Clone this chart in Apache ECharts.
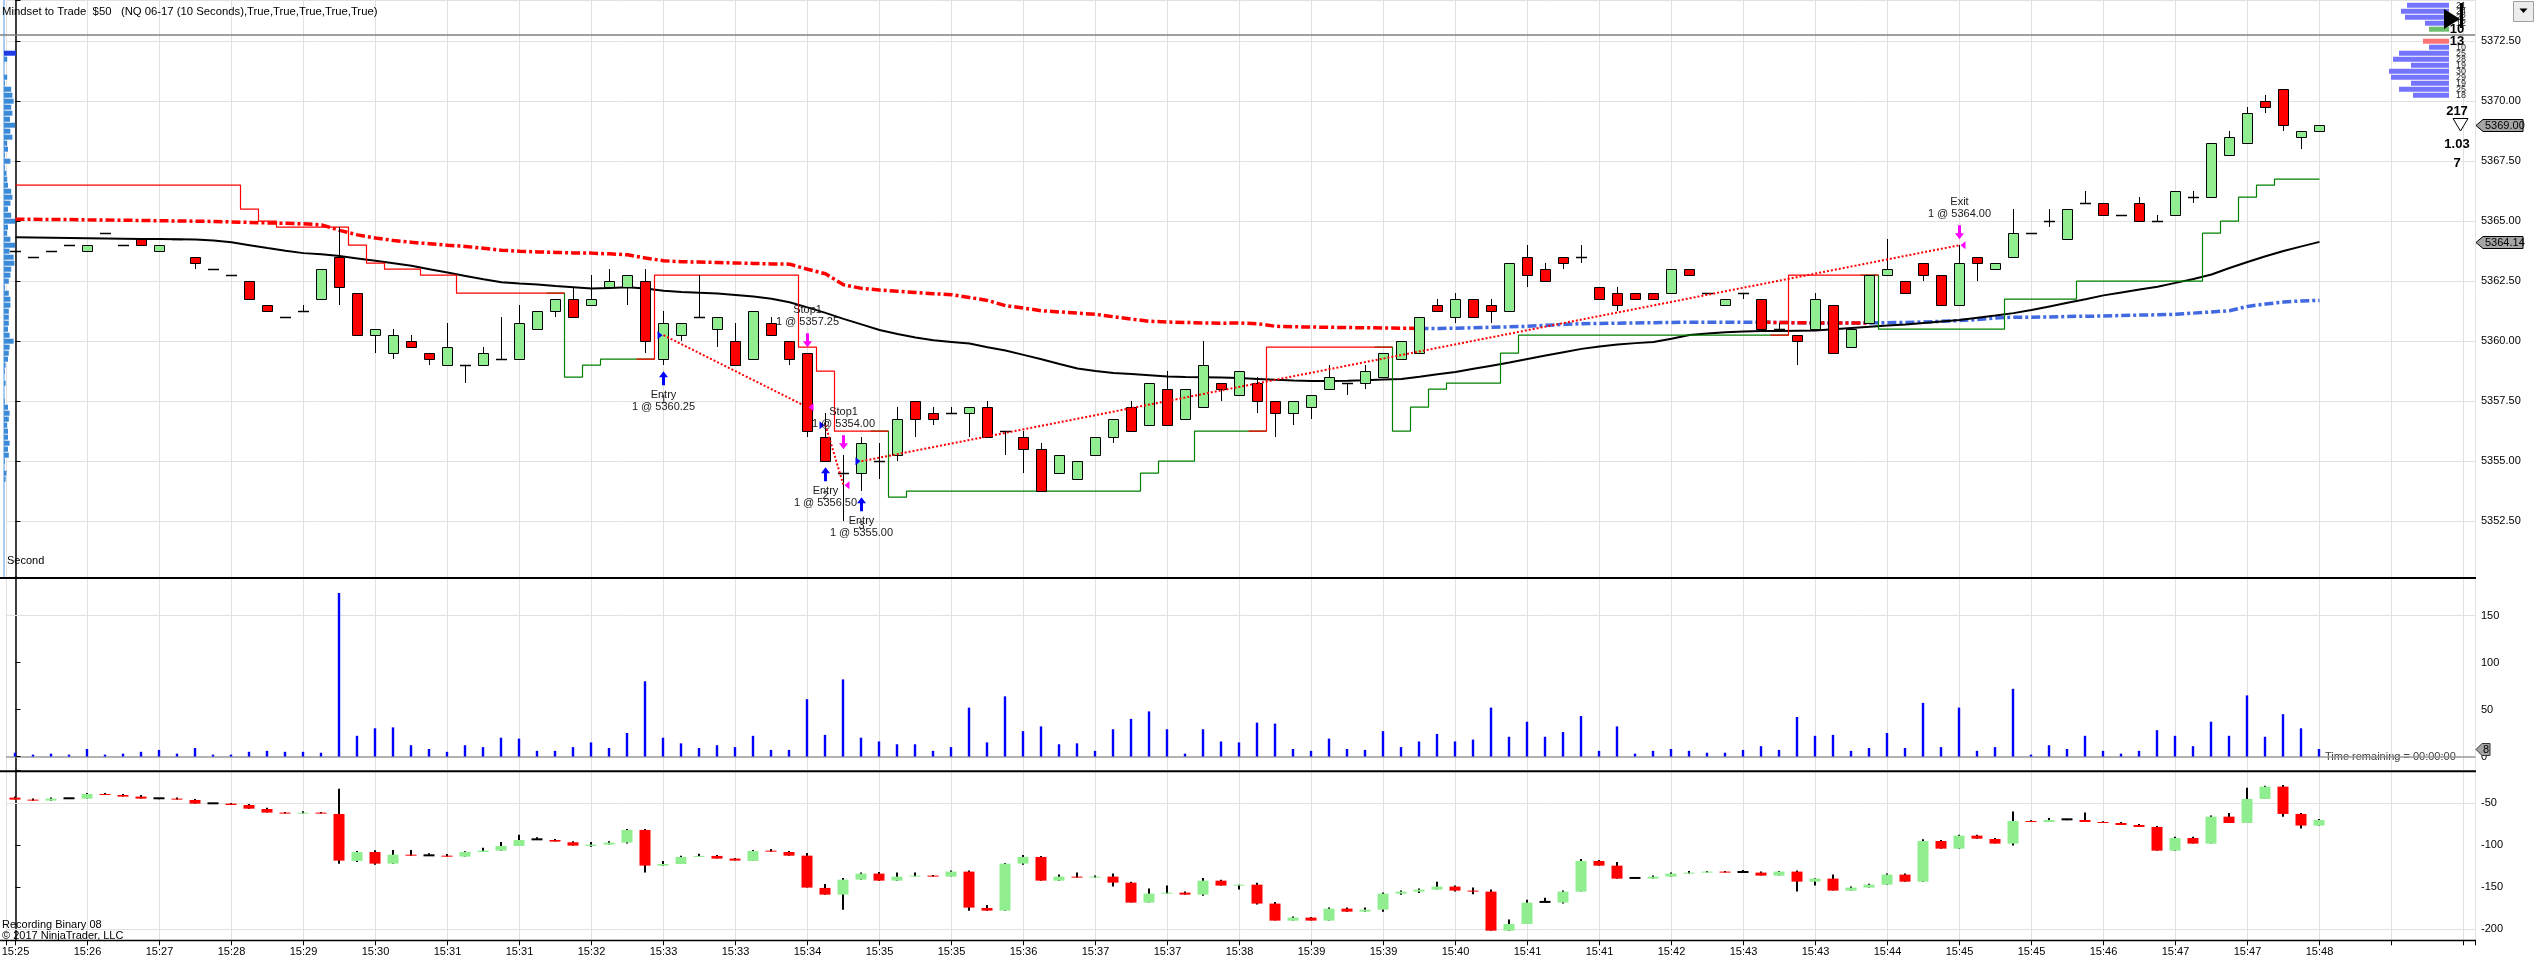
<!DOCTYPE html>
<html>
<head>
<meta charset="utf-8">
<script src="https://cdn.jsdelivr.net/npm/echarts@6/dist/echarts.min.js"></script>
<style>
html,body{margin:0;padding:0;background:#fff;overflow:hidden}
#chart{width:2535px;height:967px}
</style>
</head>
<body>
<div id="chart"></div>
<script>
// ================= DATA =================
const titleText = 'Mindset to Trade  $50   (NQ 06-17 (10 Seconds),True,True,True,True,True)';

const tickLabels = ['15:25','15:26','15:27','15:28','15:29','15:30','15:31','15:31','15:32','15:33','15:33',
  '15:34','15:35','15:35','15:36','15:37','15:37','15:38','15:39','15:39','15:40','15:41','15:41','15:42',
  '15:43','15:43','15:44','15:45','15:45','15:46','15:47','15:47','15:48'];

const priceOpen = [5363.75,5363.5,5363.75,5364.0,5363.75,5364.5,5364.0,5364.25,5363.75,5364.25,
5363.5,5363.0,5362.75,5362.5,5361.5,5361.0,5361.25,5361.75,5363.5,5362.0,
5360.25,5359.5,5360.0,5359.5,5359.0,5359.0,5359.0,5359.25,5359.25,5360.5,
5361.25,5361.75,5361.5,5362.25,5362.25,5362.5,5359.25,5360.25,5361.0,5360.5,
5360.0,5359.25,5360.75,5360.0,5359.5,5356.0,5354.5,5354.5,5355.0,5355.25,
5357.5,5357.0,5357.0,5357.0,5357.25,5356.25,5356.0,5355.5,5354.5,5354.25,
5355.25,5356.0,5357.25,5356.5,5358.0,5356.75,5357.25,5358.25,5357.75,5358.25,
5357.5,5357.0,5357.25,5358.0,5358.25,5358.25,5358.5,5359.25,5359.5,5361.5,
5361.0,5361.75,5361.5,5361.25,5363.5,5363.0,5363.5,5363.5,5362.25,5362.0,
5362.0,5362.0,5362.0,5363.0,5362.0,5361.5,5362.0,5361.75,5360.5,5360.25,
5360.5,5361.5,5359.75,5360.75,5362.75,5362.5,5363.25,5362.75,5361.5,5363.5,
5363.0,5363.5,5364.5,5365.0,5364.25,5365.75,5365.75,5365.25,5365.75,5365.0,
5365.25,5366.0,5366.0,5367.75,5368.25,5370.0,5370.5,5368.5,5368.75];

const priceHigh = [5363.75,5363.5,5363.75,5364.0,5364.0,5364.5,5364.0,5364.25,5364.0,5364.25,
5363.5,5363.0,5362.75,5362.5,5361.5,5361.0,5361.5,5363.0,5364.75,5362.0,
5360.5,5360.5,5360.25,5359.5,5360.75,5359.0,5359.75,5361.0,5361.5,5361.25,
5361.75,5362.25,5362.75,5363.0,5362.75,5363.0,5361.25,5360.75,5362.75,5361.0,
5360.75,5361.25,5361.0,5360.0,5359.5,5357.0,5355.25,5356.0,5355.75,5357.25,
5357.5,5357.25,5357.25,5357.25,5357.5,5356.25,5356.25,5355.75,5355.25,5355.0,
5356.0,5356.75,5357.5,5358.25,5358.75,5358.0,5360.0,5358.25,5358.75,5358.5,
5357.5,5357.5,5357.75,5359.0,5358.25,5359.0,5359.5,5360.0,5361.0,5361.75,
5362.0,5361.75,5361.75,5363.25,5364.0,5363.25,5363.5,5364.0,5362.25,5362.25,
5362.0,5362.0,5363.0,5363.0,5362.0,5361.75,5362.0,5361.75,5360.75,5360.25,
5362.0,5361.5,5360.5,5362.75,5364.25,5362.5,5363.25,5362.75,5364.0,5363.5,
5363.25,5365.5,5364.5,5365.5,5365.5,5366.25,5365.75,5365.25,5366.0,5365.25,
5366.25,5366.25,5368.25,5368.75,5369.75,5370.25,5370.5,5368.75,5369.0];

const priceLow = [5363.75,5363.5,5363.75,5364.0,5363.75,5364.5,5364.0,5364.0,5363.75,5364.25,
5363.0,5363.0,5362.75,5361.75,5361.25,5361.0,5361.25,5361.75,5361.5,5360.25,
5359.5,5359.25,5359.75,5359.0,5359.0,5358.25,5359.0,5359.25,5359.25,5360.5,
5361.0,5361.0,5361.5,5362.25,5361.5,5359.5,5359.0,5360.0,5361.0,5359.75,
5359.0,5359.25,5360.25,5359.0,5356.0,5355.0,5352.5,5353.75,5354.25,5355.0,
5356.0,5356.5,5357.0,5356.0,5356.0,5355.25,5354.5,5353.75,5354.5,5354.25,
5355.25,5355.75,5356.25,5356.5,5356.5,5356.75,5357.25,5357.5,5357.75,5357.0,
5356.0,5356.5,5356.75,5358.0,5357.75,5358.0,5358.5,5359.25,5359.5,5361.25,
5360.75,5361.0,5360.75,5361.25,5362.25,5362.5,5363.0,5363.25,5361.75,5361.25,
5361.75,5361.75,5362.0,5362.75,5362.0,5361.5,5361.75,5360.5,5360.5,5359.0,
5360.5,5359.5,5359.75,5360.75,5362.75,5362.0,5362.5,5361.5,5361.5,5362.5,
5363.0,5363.5,5364.5,5364.75,5364.25,5365.75,5365.25,5365.25,5365.0,5365.0,
5365.25,5365.75,5366.0,5367.75,5368.25,5369.5,5368.75,5368.0,5368.75];

const priceClose = [5363.75,5363.5,5363.75,5364.0,5364.0,5364.5,5364.0,5364.0,5364.0,5364.25,
5363.25,5363.0,5362.75,5361.75,5361.25,5361.0,5361.25,5363.0,5362.25,5360.25,
5360.5,5360.25,5359.75,5359.25,5359.75,5359.0,5359.5,5359.25,5360.75,5361.25,
5361.75,5361.0,5361.75,5362.5,5362.75,5360.0,5360.75,5360.75,5361.0,5361.0,
5359.0,5361.25,5360.25,5359.25,5356.25,5355.0,5354.5,5355.75,5355.0,5356.75,
5356.75,5356.75,5357.0,5357.25,5356.0,5356.25,5355.5,5353.75,5355.25,5355.0,
5356.0,5356.75,5356.25,5358.25,5356.5,5358.0,5359.0,5358.0,5358.75,5357.5,
5357.0,5357.5,5357.75,5358.5,5358.25,5358.75,5359.5,5360.0,5361.0,5361.25,
5361.75,5361.0,5361.25,5363.25,5362.75,5362.5,5363.25,5363.5,5361.75,5361.5,
5361.75,5361.75,5363.0,5362.75,5362.0,5361.75,5362.0,5360.5,5360.5,5360.0,
5361.75,5359.5,5360.5,5362.75,5363.0,5362.0,5362.75,5361.5,5363.25,5363.25,
5363.25,5364.5,5364.5,5365.0,5365.5,5365.75,5365.25,5365.25,5365.0,5365.0,
5366.25,5366.0,5368.25,5368.5,5369.5,5369.75,5369.0,5368.75,5369.0];

// black moving average
const sma = [5364.33,5364.32,5364.31,5364.30,5364.29,5364.28,5364.27,5364.26,5364.26,5364.25,
5364.24,5364.20,5364.12,5364.00,5363.88,5363.77,5363.67,5363.62,5363.55,5363.45,
5363.35,5363.25,5363.14,5363.00,5362.86,5362.72,5362.58,5362.46,5362.40,5362.36,
5362.30,5362.25,5362.20,5362.22,5362.25,5362.20,5362.10,5362.05,5362.02,5361.99,
5361.93,5361.86,5361.77,5361.62,5361.41,5361.18,5360.93,5360.70,5360.47,5360.30,
5360.15,5360.04,5359.97,5359.90,5359.75,5359.61,5359.43,5359.25,5359.05,5358.86,
5358.76,5358.68,5358.63,5358.58,5358.53,5358.51,5358.50,5358.49,5358.47,5358.43,
5358.39,5358.36,5358.34,5358.34,5358.35,5358.37,5358.40,5358.43,5358.52,5358.62,
5358.72,5358.85,5358.98,5359.11,5359.26,5359.40,5359.54,5359.68,5359.78,5359.86,
5359.92,5359.97,5360.10,5360.26,5360.32,5360.37,5360.40,5360.42,5360.43,5360.44,
5360.45,5360.50,5360.55,5360.60,5360.65,5360.70,5360.76,5360.82,5360.88,5360.98,
5361.07,5361.17,5361.30,5361.45,5361.60,5361.75,5361.91,5362.03,5362.15,5362.27,
5362.43,5362.59,5362.78,5363.05,5363.30,5363.54,5363.76,5363.95,5364.14];

// dash-dot line (red, later blue)
const upperLine = [5365.08,5365.08,5365.07,5365.07,5365.06,5365.05,5365.04,5365.03,5365.02,5365.01,
5365.00,5364.99,5364.97,5364.95,5364.93,5364.91,5364.89,5364.85,5364.62,5364.43,
5364.30,5364.20,5364.12,5364.06,5364.00,5363.95,5363.87,5363.79,5363.75,5363.72,
5363.70,5363.68,5363.67,5363.64,5363.60,5363.47,5363.35,5363.31,5363.30,5363.28,
5363.26,5363.24,5363.22,5363.21,5363.00,5362.81,5362.35,5362.20,5362.13,5362.08,
5362.03,5361.98,5361.94,5361.82,5361.70,5361.48,5361.38,5361.27,5361.22,5361.17,
5361.12,5361.02,5360.92,5360.83,5360.80,5360.78,5360.76,5360.75,5360.76,5360.73,
5360.62,5360.60,5360.59,5360.58,5360.57,5360.56,5360.55,5360.54,5360.53,5360.53,
5360.54,5360.56,5360.58,5360.60,5360.62,5360.66,5360.70,5360.73,5360.74,5360.75,
5360.76,5360.77,5360.78,5360.79,5360.79,5360.79,5360.79,5360.79,5360.78,5360.77,
5360.76,5360.76,5360.76,5360.76,5360.77,5360.78,5360.80,5360.83,5360.86,5360.90,
5360.97,5361.00,5361.00,5361.01,5361.03,5361.04,5361.05,5361.07,5361.09,5361.10,
5361.12,5361.17,5361.22,5361.27,5361.45,5361.55,5361.63,5361.68,5361.70];
const upperSwitchBar = 78;          // red -> blue
const upperRedOverlay = [97, 103];  // red dashes again over blue

// trailing stop steps: [fromBar, toBar, price]
const stopRedRuns = [[0,12,5366.5],[13,13,5365.5],[14,14,5365.0],[15,18,5364.75],[19,19,5364.0],
 [20,20,5363.25],[21,22,5363.0],[23,24,5362.75],[25,30,5362.0],
 [35,35,5359.25],[36,43,5362.75],[44,44,5359.75],[45,45,5358.75],[46,48,5356.25],
 [69,69,5356.25],[70,76,5359.75],
 [98,98,5360.25],[99,103,5362.75]];
const stopGreenRuns = [[30,30,5362.0],[31,31,5358.5],[32,32,5359.0],[33,35,5359.25],
 [48,48,5356.25],[49,49,5353.5],[50,62,5353.75],[63,63,5354.5],[64,65,5355.0],[66,69,5356.25],
 [76,76,5359.75],[77,77,5356.25],[78,78,5357.25],[79,79,5358.0],[80,82,5358.25],[83,83,5359.5],[84,98,5360.25],
 [103,103,5362.75],[104,110,5360.5],[111,114,5361.75],[115,121,5362.5],[122,122,5364.5],[123,123,5365.0],
 [124,124,5366.0],[125,125,5366.5],[126,128,5366.75]];

// executions
const execBars   = [36, 44, 45, 46, 47, 108];
const execPrices = [5360.25, 5357.25, 5356.50, 5354.00, 5355.00, 5364.00];
const execSides  = ['buy','sell','buy','sell','buy','sell'];
const execNames  = ['Entry','Stop1','Entry','Stop1','Entry','Exit'];
const execQty    = [1,1,1,1,1,1];
const execTradeNo = ['1','','2','','3',''];
const tradePairs = [[0,1],[2,3],[4,5]];

// volume
const volume = [4,2,3,2,8,2,3,5,7,3, 9,2,2,5,6,5,5,4,174,22, 30,31,12,8,5,12,10,20,19,6,
 6,10,15,9,25,80,20,14,9,12, 10,22,7,7,61,23,82,20,16,13, 13,6,10,52,15,64,27,32,13,14,
 6,29,40,48,29,3,29,16,15,36, 35,8,6,19,8,7,27,10,16,24, 16,18,52,21,37,21,26,43,6,32,
 3,6,8,6,4,4,7,11,7,42, 22,23,6,9,25,9,57,10,52,6, 10,72,2,12,8,22,6,3,6,28,
 22,11,37,22,65,21,45,30,8];

// lower indicator (OHLC)
const indOpen = [-43.2,-45.6,-46.8,-44.0,-44.4,-38.9,-40.1,-42.0,-44.0,-44.4,
-46.0,-50.0,-50.4,-52.0,-56.8,-61.1,-62.3,-61.1,-62.7,-118.8,
-108.1,-122.0,-111.3,-112.1,-112.5,-113.6,-108.1,-106.5,-100.9,-93.0,
-93.8,-96.5,-100.9,-99.3,-96.9,-81.8,-124.4,-122.4,-114.0,-112.8,
-116.0,-118.8,-106.5,-108.1,-112.5,-151.0,-159.0,-141.1,-133.9,-142.3,
-137.5,-136.3,-137.5,-131.5,-174.9,-178.1,-122.0,-114.0,-142.3,-137.5,
-138.7,-137.5,-144.7,-168.5,-157.8,-156.6,-159.0,-142.3,-148.2,-147.1,
-169.7,-190.0,-186.4,-190.0,-175.7,-179.3,-176.9,-157.8,-155.4,-153.0,
-149.4,-154.2,-155.4,-202.0,-194.0,-167.7,-168.5,-155.4,-118.8,-124.4,
-139.1,-139.9,-137.5,-133.9,-132.7,-131.5,-132.0,-132.7,-136.3,-131.5,
-143.5,-139.9,-154.2,-150.6,-147.1,-135.1,-143.5,-95.0,-104.1,-88.6,
-92.6,-98.1,-71.1,-72.3,-69.1,-69.9,-72.3,-73.5,-75.9,-78.2,
-106.5,-91.4,-98.1,-65.9,-73.5,-44.8,-30.1,-62.7,-76.6];
const indHigh = [-42.0,-44.4,-43.2,-44.0,-37.7,-37.7,-38.9,-40.1,-44.0,-43.2,
-44.8,-50.0,-49.6,-50.8,-55.2,-60.3,-59.5,-60.3,-32.5,-106.9,
-106.1,-105.7,-105.7,-109.7,-110.5,-107.3,-102.9,-96.1,-87.4,-90.6,
-92.6,-95.3,-96.1,-95.3,-80.6,-80.6,-118.8,-112.5,-110.1,-111.7,
-115.2,-105.7,-104.5,-106.9,-109.3,-146.3,-139.1,-132.7,-131.9,-132.7,
-132.7,-135.5,-130.3,-130.3,-171.3,-121.2,-111.7,-112.8,-135.1,-132.7,
-136.3,-133.9,-143.5,-151.8,-148.2,-155.4,-139.1,-141.1,-147.1,-144.7,
-167.7,-185.2,-185.6,-174.5,-174.5,-174.5,-156.6,-154.2,-151.8,-143.5,
-148.2,-150.6,-153.0,-188.8,-165.0,-162.6,-154.2,-116.4,-117.6,-120.0,
-137.9,-136.3,-132.7,-130.7,-130.7,-130.7,-129.5,-131.5,-130.7,-130.3,
-139.5,-135.1,-149.4,-145.9,-133.9,-133.9,-93.0,-93.8,-87.4,-87.4,
-91.4,-59.9,-70.3,-67.5,-69.1,-61.1,-71.5,-72.3,-74.7,-77.0,
-89.8,-89.8,-64.7,-61.5,-31.3,-28.9,-28.1,-61.5,-68.7];
const indLow = [-45.6,-46.8,-46.8,-44.0,-44.4,-40.1,-42.0,-44.4,-45.2,-45.6,
-50.4,-50.0,-52.0,-56.4,-61.1,-62.3,-62.3,-62.3,-122.0,-120.0,
-123.2,-122.0,-112.5,-112.1,-113.6,-113.6,-108.1,-106.5,-100.9,-93.0,
-95.7,-100.5,-101.7,-99.3,-98.1,-132.7,-124.4,-122.4,-114.0,-116.0,
-118.4,-118.8,-107.7,-112.5,-150.6,-159.0,-176.9,-141.1,-142.3,-142.3,
-137.5,-137.5,-137.5,-178.1,-178.1,-178.1,-123.2,-142.3,-142.3,-138.7,
-138.7,-149.4,-168.5,-168.5,-157.8,-159.0,-160.2,-148.2,-153.0,-170.9,
-190.0,-190.0,-190.0,-190.0,-179.3,-179.3,-179.3,-159.0,-157.0,-153.0,
-155.4,-158.5,-202.0,-202.0,-194.0,-167.7,-169.7,-155.4,-124.4,-139.9,
-139.1,-139.9,-137.5,-133.9,-132.7,-132.7,-132.0,-136.3,-136.3,-155.4,
-148.2,-154.2,-154.2,-150.6,-147.1,-143.5,-143.5,-104.1,-104.1,-92.2,
-98.1,-100.5,-72.3,-72.3,-70.3,-72.3,-73.5,-75.9,-78.2,-106.5,
-106.5,-98.1,-98.1,-73.5,-73.5,-44.8,-65.9,-80.2,-76.6];
const indClose = [-45.6,-46.8,-44.4,-44.0,-38.9,-40.1,-42.0,-44.4,-44.0,-45.6,
-50.4,-50.0,-52.0,-56.4,-61.1,-62.3,-61.1,-62.3,-118.4,-108.1,
-122.0,-111.3,-112.5,-112.1,-113.6,-108.1,-106.5,-100.9,-93.8,-93.0,
-95.7,-100.5,-99.3,-96.9,-81.8,-124.4,-122.4,-114.0,-112.8,-116.0,
-118.4,-106.9,-107.7,-112.5,-150.6,-159.0,-141.1,-133.9,-142.3,-137.5,
-136.3,-137.5,-131.5,-174.5,-178.1,-122.0,-114.0,-142.3,-137.5,-138.7,
-137.5,-144.7,-168.5,-157.8,-156.6,-159.0,-142.3,-148.2,-147.1,-169.7,
-190.0,-186.4,-190.0,-175.7,-179.3,-176.9,-157.8,-155.4,-153.0,-149.4,
-154.2,-155.4,-202.0,-194.0,-168.5,-167.7,-155.4,-118.8,-124.4,-139.9,
-139.1,-137.5,-133.9,-132.7,-131.5,-132.7,-132.0,-136.3,-131.5,-143.5,
-139.9,-154.2,-150.6,-147.1,-135.1,-143.5,-95.0,-104.1,-88.6,-92.2,
-98.1,-71.1,-72.3,-69.9,-69.1,-72.3,-73.5,-75.9,-78.2,-106.5,
-91.4,-98.1,-65.9,-73.5,-44.8,-30.1,-62.7,-76.6,-69.9];

// left volume profile (price -> volume)
const profilePrice = [5372.0,5371.75,5371.0,5370.75,5370.5,5370.25,5370.0,5369.75,5369.5,5369.25,5369.0,5368.75,
 5368.5,5368.25,5368.0,5367.75,5367.5,5367.25,5367.0,5366.75,5366.5,5366.25,5366.0,5365.75,5365.5,5365.25,5365.0,
 5364.75,5364.5,5364.25,5364.0,5363.75,5363.5,5363.25,5363.0,5362.75,5362.5,5362.25,5362.0,5361.75,5361.5,5361.25,
 5361.0,5360.75,5360.5,5360.25,5360.0,5359.75,5359.5,5359.25,5359.0,5358.75,5358.25,5357.5,5357.25,5357.0,5356.75,
 5356.5,5356.25,5356.0,5355.75,5355.5,5355.25,5355.0,5354.5,5354.25];
const profileVol = [30,8,8,2,18,21,24,18,21,15,28,16,21,8,10,2,16,2,6,8,10,18,21,16,10,18,28,10,8,16,28,14,24,26,
 18,16,12,2,12,16,16,12,12,12,10,14,24,14,12,10,4,2,4,2,10,14,12,8,10,10,14,10,12,2,6,4];
const profileHighlight = 5372.0;

// right price ladder
const ladderPrice = [5374.0,5373.75,5373.5,5373.25,5373.0,5372.5,5372.25,5372.0,5371.75,5371.5,5371.25,5371.0,5370.75,5370.5,5370.25];
const ladderVol   = [21,24,22,12,10,13,10,25,28,19,30,29,19,25,18];
const ladderKind  = ['ask','ask','ask','ask','lastAsk','lastBid','bid','bid','bid','bid','bid','bid','bid','bid','bid'];

// ================= CHART =================
const N = priceOpen.length;
const FONT = '"Liberation Sans", Arial, Helvetica, sans-serif';
const X_MIN = -0.5, X_MAX = 136.639;
const P_MIN = 5350.175, P_MAX = 5374.217;
const V_MIN = -14.36, V_MAX = 190.96;
const I_MIN = -213.5, I_MAX = -11.8;
const GL = 6.5, GW = 2468.5;
const GRID_LINE = '#E1E1E1';

function isMultiple(v, step) { const r = v / step; return Math.abs(r - Math.round(r)) < 1e-6; }
function expandRuns(runs) { const a = new Array(N).fill(null); runs.forEach(([s,e,v]) => { for (let i = s; i <= e; i++) a[i] = v; }); return a; }
function timeLabel(v) {
  if (!isMultiple(v, 4)) return '';
  const k = Math.round(v / 4);
  return tickLabels[k] || '';
}

const stopRed = expandRuns(stopRedRuns);
const stopGreen = expandRuns(stopGreenRuns);

function renderPriceCandle(params, api) {
  const i = api.value(0), o = api.value(1), h = api.value(2), l = api.value(3), c = api.value(4);
  const pO = api.coord([i, o]), pC = api.coord([i, c]), pH = api.coord([i, h]), pL = api.coord([i, l]);
  const x = Math.round(pO[0]) + 0.5;
  const w = 10;
  const ch = [];
  if (h > l) ch.push({type:'line', shape:{x1:x, y1:Math.round(pH[1]), x2:x, y2:Math.round(pL[1])}, style:{stroke:'#000', lineWidth:1}});
  if (o === c) {
    const y = Math.round(pO[1]) + 0.5;
    ch.push({type:'line', shape:{x1:x - w/2 - 0.5, y1:y, x2:x + w/2 + 0.5, y2:y}, style:{stroke:'#000', lineWidth:1.5}});
  } else {
    const t = Math.round(Math.min(pO[1], pC[1])) + 0.5, b = Math.round(Math.max(pO[1], pC[1])) + 0.5;
    ch.push({type:'rect', shape:{x:x - w/2, y:t, width:w, height:b - t}, style:{fill: c > o ? '#90EE90' : '#FF0000', stroke:'#000', lineWidth:1}});
  }
  return {type:'group', children: ch};
}

function renderIndCandle(params, api) {
  const i = api.value(0), o = api.value(1), h = api.value(2), l = api.value(3), c = api.value(4);
  const pO = api.coord([i, o]), pC = api.coord([i, c]), pH = api.coord([i, h]), pL = api.coord([i, l]);
  const x = Math.round(pO[0]);
  const w = 11;
  const ch = [];
  if (h > l) ch.push({type:'line', shape:{x1:x, y1:pH[1], x2:x, y2:pL[1]}, style:{stroke:'#000', lineWidth:2}});
  if (o === c) {
    ch.push({type:'line', shape:{x1:x - w/2, y1:pO[1], x2:x + w/2, y2:pO[1]}, style:{stroke:'#000', lineWidth:2}});
  } else {
    const t = Math.min(pO[1], pC[1]), b = Math.max(pO[1], pC[1]);
    ch.push({type:'rect', shape:{x:x - w/2, y:t, width:w, height:Math.max(1, b - t)}, style:{fill: c > o ? '#90EE90' : '#FF0000'}});
  }
  return {type:'group', children: ch};
}

function renderVolume(params, api) {
  const i = api.value(0), v = api.value(1);
  const a = api.coord([i, 0]), b = api.coord([i, v]);
  return {type:'rect', shape:{x:Math.round(a[0]) - 1.2, y:b[1], width:2.4, height:a[1] - b[1]}, style:{fill:'#0000FF'}};
}

function renderExec(params, api) {
  const k = params.dataIndex;
  const bar = execBars[k], price = execPrices[k], buy = execSides[k] === 'buy';
  const anchor = buy ? priceLow[bar] : priceHigh[bar];
  const pt = api.coord([bar, anchor]);
  const x = Math.round(pt[0]) + 0.5, ya = pt[1];
  const yp = api.coord([bar, price])[1];
  const col = buy ? '#0000FF' : '#FF00FF';
  const s = buy ? 1 : -1;
  const tip = ya + s * 6, neck = tip + s * 6, tail = ya + s * 20;
  const tf = '11px ' + FONT;
  const txt = (t, y) => ({type:'text', style:{text:t, x:x, y:y, textAlign:'center', textVerticalAlign:'middle', font:tf, fill:'#1a1a1a'}});
  const ch = [];
  ch.push({type:'polygon', shape:{points:[[x, tip],[x + 4.5, neck],[x + 1.5, neck],[x + 1.5, tail],[x - 1.5, tail],[x - 1.5, neck],[x - 4.5, neck]]}, style:{fill:col}});
  if (buy) {
    ch.push(txt(execNames[k], ya + 30));
    ch.push(txt(execQty[k] + ' @ ' + price.toFixed(2), ya + 42));
    if (execTradeNo[k]) ch.push(txt(execTradeNo[k], ya + 35));
    ch.push({type:'polygon', shape:{points:[[x - 6, yp - 4],[x - 1, yp],[x - 6, yp + 4]]}, style:{fill:col}});
  } else {
    ch.push(txt(execNames[k], ya - 43));
    ch.push(txt(execQty[k] + ' @ ' + price.toFixed(2), ya - 31));
    ch.push({type:'polygon', shape:{points:[[x + 6, yp - 4],[x + 1, yp],[x + 6, yp + 4]]}, style:{fill:col}});
  }
  return {type:'group', children: ch};
}

function renderTag(params, api) {
  const v = api.value(1);
  const y = Math.round(api.coord([api.value(0), v])[1]) + 0.5;
  const x0 = params.coordSys.x + params.coordSys.width + 1;
  return {type:'group', children:[
    {type:'polygon', shape:{points:[[x0, y],[x0 + 7, y - 6],[x0 + 47, y - 6],[x0 + 47, y + 6],[x0 + 7, y + 6]]}, style:{fill:'#A4A4A4', stroke:'#000', lineWidth:1}},
    {type:'text', style:{text:v.toFixed(2), x:x0 + 9, y:y, textAlign:'left', textVerticalAlign:'middle', font:'11px ' + FONT, fill:'#000'}}
  ]};
}

function renderVolTag(params, api) {
  const v = api.value(1);
  const y = Math.round(api.coord([api.value(0), v])[1]) + 0.5;
  const x0 = params.coordSys.x + params.coordSys.width + 1;
  return {type:'group', children:[
    {type:'polygon', shape:{points:[[x0, y],[x0 + 6, y - 6],[x0 + 14, y - 6],[x0 + 14, y + 6],[x0 + 6, y + 6]]}, style:{fill:'#A4A4A4', stroke:'#333', lineWidth:1}},
    {type:'text', style:{text:String(v), x:x0 + 10, y:y, textAlign:'center', textVerticalAlign:'middle', font:'11px ' + FONT, fill:'#000'}}
  ]};
}

function renderProfile(params, api) {
  const v = api.value(0), p = api.value(1);
  const a = api.coord([0, p + 0.125]), b = api.coord([v, p - 0.125]);
  return {type:'rect', shape:{x:a[0], y:a[1] + 0.5, width:b[0] - a[0], height:b[1] - a[1] - 1}, style:{fill: p === profileHighlight ? '#1E3CE6' : '#3A8AD8'}};
}

function renderLadder(params, api) {
  const k = params.dataIndex;
  const v = api.value(0), p = api.value(1);
  const a = api.coord([0, p + 0.125]), b = api.coord([v, p - 0.125]);
  const kind = ladderKind[k];
  const fill = kind === 'lastAsk' ? '#6CBF6C' : kind === 'lastBid' ? '#FF7373' : '#7474FF';
  const xr = params.coordSys.x + params.coordSys.width;
  const ym = (a[1] + b[1]) / 2;
  const bold = kind === 'lastAsk' || kind === 'lastBid';
  return {type:'group', children:[
    {type:'rect', shape:{x:Math.min(a[0], b[0]), y:a[1] + 0.5, width:Math.abs(b[0] - a[0]), height:b[1] - a[1] - 1}, style:{fill:fill}},
    {type:'text', z2: bold ? 10 : 1, style:{text:String(v), x: xr + (bold ? 8 : 12), y: ym, textAlign:'center', textVerticalAlign:'middle',
      font: bold ? 'bold 13px ' + FONT : '9px ' + FONT, fill: bold ? '#000' : '#222'}}
  ]};
}

function xAxisFor(gi, opts) {
  return Object.assign({
    type:'value', gridIndex:gi, min:X_MIN, max:X_MAX, minInterval:4, maxInterval:4,
    axisLine:{show:false}, axisTick:{show:false}, axisLabel:{show:false},
    splitLine:{show:true, lineStyle:{color:GRID_LINE, width:1}}
  }, opts || {});
}
const yLabel = {color:'#000', fontSize:11, fontFamily:FONT, margin:6};

const gridBase = {containLabel:false, outerBoundsMode:'none', show:false};
const option = {
  animation:false,
  backgroundColor:'#ffffff',
  textStyle:{fontFamily:FONT},
  grid:[
    Object.assign({left:GL, top:0, width:GW, height:577}, gridBase),
    Object.assign({left:GL, top:577, width:GW, height:193}, gridBase),
    Object.assign({left:GL, top:771.3, width:GW, height:169}, gridBase),
    Object.assign({left:4, top:0, width:40, height:577}, gridBase),
    Object.assign({left:2380, top:0, width:69, height:577}, gridBase)
  ],
  xAxis:[
    xAxisFor(0),
    xAxisFor(1, {axisLine:{show:true, onZero:true, lineStyle:{color:'#9A9A9A', width:1.5}}}),
    xAxisFor(2, {axisTick:{show:true, length:5, lineStyle:{color:'#000'}},
      axisLabel:{show:true, formatter:timeLabel, color:'#000', fontSize:11, fontFamily:FONT, margin:6}}),
    {type:'value', gridIndex:3, min:0, max:100, show:false},
    {type:'value', gridIndex:4, min:0, max:34.5, inverse:true, show:false}
  ],
  yAxis:[
    {type:'value', gridIndex:0, position:'right', min:P_MIN, max:P_MAX, minInterval:2.5, maxInterval:2.5,
      axisLine:{show:true, lineStyle:{color:'#000', width:1.5}}, axisTick:{show:true, length:5, lineStyle:{color:'#000'}},
      axisLabel:Object.assign({formatter:v => isMultiple(v, 2.5) ? v.toFixed(2) : ''}, yLabel),
      splitLine:{show:true, lineStyle:{color:GRID_LINE, width:1}}},
    {type:'value', gridIndex:1, position:'right', min:V_MIN, max:V_MAX, minInterval:50, maxInterval:50,
      axisLine:{show:true, lineStyle:{color:'#000', width:1.5}}, axisTick:{show:true, length:5, lineStyle:{color:'#000'}},
      axisLabel:Object.assign({formatter:v => isMultiple(v, 50) ? String(Math.round(v)) : ''}, yLabel),
      splitLine:{show:false}},
    {type:'value', gridIndex:2, position:'right', min:I_MIN, max:I_MAX, minInterval:50, maxInterval:50,
      axisLine:{show:true, lineStyle:{color:'#000', width:1.5}}, axisTick:{show:true, length:5, lineStyle:{color:'#000'}},
      axisLabel:Object.assign({formatter:v => isMultiple(v, 50) ? String(Math.round(v)) : ''}, yLabel),
      splitLine:{show:false}},
    {type:'value', gridIndex:3, position:'left', min:P_MIN, max:P_MAX,
      axisLine:{show:true, lineStyle:{color:'#A9CBEF', width:2}}, axisTick:{show:false}, axisLabel:{show:false}, splitLine:{show:false}},
    {type:'value', gridIndex:4, min:P_MIN, max:P_MAX, show:false}
  ],
  series:[
    // ---- price panel ----
    {type:'line', name:'upperBlue', xAxisIndex:0, yAxisIndex:0, z:3, silent:true, symbol:'none',
      data: upperLine.map((v, i) => [i, i >= upperSwitchBar ? v : null]),
      lineStyle:{color:'#4169E1', width:3.5, type:[9,3,3,3]}},
    {type:'line', name:'upperRed', xAxisIndex:0, yAxisIndex:0, z:3, silent:true, symbol:'none',
      data: upperLine.map((v, i) => [i, (i <= upperSwitchBar || (i >= upperRedOverlay[0] && i <= upperRedOverlay[1])) ? v : null]),
      lineStyle:{color:'#FF0000', width:3.5, type:[9,3,3,3]}},
    {type:'line', name:'sma', xAxisIndex:0, yAxisIndex:0, z:3, silent:true, symbol:'none',
      data: sma.map((v, i) => [i, v]), lineStyle:{color:'#000', width:2}},
    {type:'line', name:'stopGreen', xAxisIndex:0, yAxisIndex:0, z:3, silent:true, symbol:'none', step:'middle',
      data: stopGreen.map((v, i) => [i, v]), lineStyle:{color:'#008000', width:1.2}},
    {type:'line', name:'stopRed', xAxisIndex:0, yAxisIndex:0, z:3, silent:true, symbol:'none', step:'middle',
      data: stopRed.map((v, i) => [i, v]), lineStyle:{color:'#FF0000', width:1.2}},
    {type:'custom', name:'price', xAxisIndex:0, yAxisIndex:0, z:5, silent:true,
      data: priceOpen.map((o, i) => [i, o, priceHigh[i], priceLow[i], priceClose[i]]),
      encode:{x:0, y:[1,2,3,4]}, renderItem: renderPriceCandle},
    ...tradePairs.map(([a, b]) => ({type:'line', xAxisIndex:0, yAxisIndex:0, z:8, silent:true, symbol:'none',
      data:[[execBars[a], execPrices[a]],[execBars[b], execPrices[b]]],
      lineStyle:{color:'#FF0000', width:2, type:[2,2]}})),
    {type:'custom', name:'executions', xAxisIndex:0, yAxisIndex:0, z:10, silent:true, clip:false,
      data: execBars.map((b, k) => [b, execPrices[k]]), renderItem: renderExec},
    {type:'custom', name:'tags', xAxisIndex:0, yAxisIndex:0, z:20, silent:true, clip:false,
      data: [[N - 1, priceClose[N - 1]], [N - 1, sma[N - 1]]], renderItem: renderTag},
    // ---- volume panel ----
    {type:'line', xAxisIndex:1, yAxisIndex:1, data:[], z:1, silent:true,
      markLine:{silent:true, symbol:['none','none'], label:{show:false}, animation:false,
        lineStyle:{color:GRID_LINE, width:1, type:'solid'}, data:[{yAxis:150}]}},
    {type:'custom', name:'volume', xAxisIndex:1, yAxisIndex:1, z:5, silent:true,
      data: volume.map((v, i) => [i, v]), renderItem: renderVolume},
    {type:'custom', name:'volTag', xAxisIndex:1, yAxisIndex:1, z:20, silent:true, clip:false,
      data: [[N - 1, volume[N - 1]]], renderItem: renderVolTag},
    // ---- indicator panel ----
    {type:'line', xAxisIndex:2, yAxisIndex:2, data:[], z:1, silent:true,
      markLine:{silent:true, symbol:['none','none'], label:{show:false}, animation:false,
        lineStyle:{color:GRID_LINE, width:1, type:'solid'}, data:[{yAxis:-50},{yAxis:-200}]}},
    {type:'custom', name:'indicator', xAxisIndex:2, yAxisIndex:2, z:5, silent:true,
      data: indOpen.map((o, i) => [i, o, indHigh[i], indLow[i], indClose[i]]),
      encode:{x:0, y:[1,2,3,4]}, renderItem: renderIndCandle},
    // ---- volume profile & ladder ----
    {type:'custom', name:'profile', xAxisIndex:3, yAxisIndex:3, z:4, silent:true, clip:false,
      data: profilePrice.map((p, k) => [profileVol[k], p]), renderItem: renderProfile},
    {type:'custom', name:'ladder', xAxisIndex:4, yAxisIndex:4, z:4, silent:true, clip:false,
      data: ladderPrice.map((p, k) => [ladderVol[k], p]), renderItem: renderLadder}
  ],
  graphic:[
    {type:'text', x:2, y:12, silent:true, z:60,
      style:{text:titleText, x:0, y:0, font:'11.3px ' + FONT, fill:'#000', textVerticalAlign:'middle'}},
    {type:'line', silent:true, z:50, shape:{x1:0, y1:35, x2:2475, y2:35}, style:{stroke:'#7F7F7F', lineWidth:1.5}},
    {type:'line', silent:true, z:50, shape:{x1:0, y1:578, x2:2476, y2:578}, style:{stroke:'#000', lineWidth:2}},
    {type:'line', silent:true, z:50, shape:{x1:0, y1:771.3, x2:2476, y2:771.3}, style:{stroke:'#000', lineWidth:2}},
    {type:'line', silent:true, z:50, shape:{x1:0, y1:940.5, x2:2476, y2:940.5}, style:{stroke:'#000', lineWidth:1.5}},
    {type:'text', x:7, y:561, silent:true, z:60, style:{text:'Second', font:'11px ' + FONT, fill:'#000', textVerticalAlign:'middle'}},
    {type:'text', x:2, y:924.5, silent:true, z:60, style:{text:'Recording Binary 08', font:'11px ' + FONT, fill:'#000', textVerticalAlign:'middle'}},
    {type:'text', x:2, y:935.5, silent:true, z:60, style:{text:'\u00A9 2017 NinjaTrader, LLC', font:'11px ' + FONT, fill:'#000', textVerticalAlign:'middle'}},
    {type:'text', x:2325, y:756.5, silent:true, z:0, style:{text:'Time remaining = 00:00:00', font:'11px ' + FONT, fill:'#3a3a3a', textVerticalAlign:'middle'}},
    {type:'text', x:2457, y:111.7, silent:true, z:60, style:{text:'217', font:'bold 13px ' + FONT, fill:'#000', textAlign:'center', textVerticalAlign:'middle'}},
    {type:'polygon', silent:true, z:60, shape:{points:[[2453,118.5],[2468,118.5],[2460.5,131]]}, style:{fill:'#fff', stroke:'#000', lineWidth:1}},
    {type:'text', x:2457, y:144, silent:true, z:60, style:{text:'1.03', font:'bold 13px ' + FONT, fill:'#000', textAlign:'center', textVerticalAlign:'middle'}},
    {type:'text', x:2457, y:163, silent:true, z:60, style:{text:'7', font:'bold 13px ' + FONT, fill:'#000', textAlign:'center', textVerticalAlign:'middle'}},
    {type:'polygon', silent:true, z:60, shape:{points:[[2444,9],[2460,19],[2444,29]]}, style:{fill:'#000'}},
    {type:'rect', silent:true, z:60, shape:{x:2460, y:3, width:3, height:25}, style:{fill:'#000'}},
    {type:'rect', silent:true, z:60, shape:{x:2513.5, y:1.5, width:20, height:20}, style:{fill:'#EDEDED', stroke:'#A0A0A0', lineWidth:1}},
    {type:'polygon', silent:true, z:61, shape:{points:[[2519.5,8.5],[2527.5,8.5],[2523.5,13]]}, style:{fill:'#000'}}
  ]
};

const chart = echarts.init(document.getElementById('chart'), null, {renderer:'canvas', width:2535, height:967});
chart.setOption(option);
</script>
</body>
</html>
